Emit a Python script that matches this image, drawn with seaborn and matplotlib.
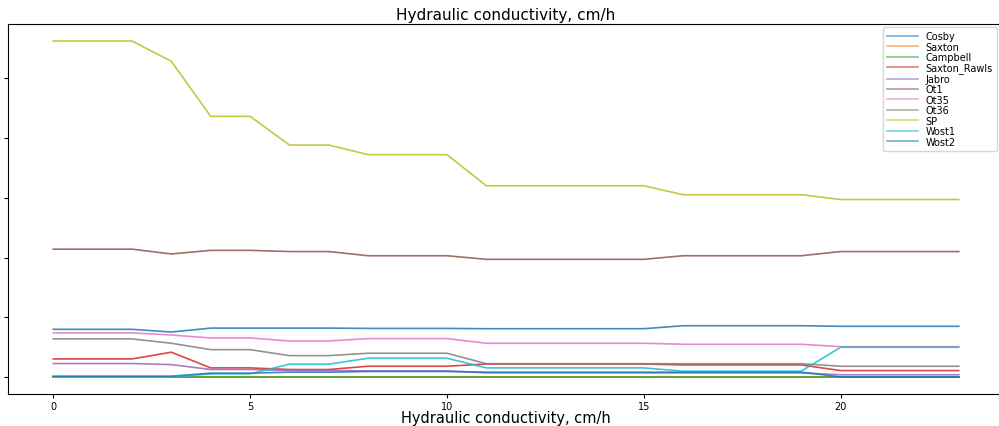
import numpy as np
import pandas as pd
import matplotlib
matplotlib.use('Agg')
import matplotlib.pyplot as plt
import seaborn as sns

# x positions (layer index)
steps = list(range(24))

# values (y units = one tick step)
cosby = [0.80, 0.80, 0.80, 0.755] + [0.82] * 4 + [0.815] * 3 + [0.81] * 5 + [0.86] * 4 + [0.85] * 4
saxton = [0.0] * 24
campbell = [0.005] * 24
saxton_rawls = [0.305, 0.305, 0.305, 0.417, 0.155, 0.155, 0.128, 0.128, 0.183, 0.183, 0.183] + [0.22] * 5 + [0.205] * 4 + [0.11] * 4
jabro = [0.228, 0.228, 0.228, 0.21, 0.128, 0.128, 0.11, 0.11, 0.105, 0.105, 0.105] + [0.072] * 9 + [0.04] * 4
ot1 = [2.14, 2.14, 2.14, 2.06, 2.12, 2.12, 2.10, 2.10, 2.03, 2.03, 2.03] + [1.97] * 5 + [2.03] * 4 + [2.10] * 4
ot35 = [0.74, 0.74, 0.74, 0.705, 0.655, 0.655, 0.605, 0.605, 0.645, 0.645, 0.645] + [0.567] * 5 + [0.55] * 4 + [0.51] * 4
ot36 = [0.64, 0.64, 0.64, 0.567, 0.46, 0.46, 0.36, 0.36, 0.40, 0.40, 0.40] + [0.225] * 9 + [0.183] * 4
sp = [5.62, 5.62, 5.62, 5.28, 4.36, 4.36, 3.88, 3.88, 3.72, 3.72, 3.72] + [3.20] * 5 + [3.05] * 4 + [2.97] * 4
wost1 = [0.0, 0.0, 0.0, 0.0, 0.055, 0.055, 0.217, 0.217, 0.317, 0.317, 0.317] + [0.155] * 5 + [0.10] * 4 + [0.50] * 4
wost2 = [0.017, 0.017, 0.017, 0.017, 0.067, 0.067, 0.083, 0.083, 0.095, 0.095, 0.095] + [0.083] * 9 + [0.005] * 4

names = ['Cosby', 'Saxton', 'Campbell', 'Saxton_Rawls', 'Jabro', 'Ot1',
         'Ot35', 'Ot36', 'SP', 'Wost1', 'Wost2']
series = [cosby, saxton, campbell, saxton_rawls, jabro, ot1,
          ot35, ot36, sp, wost1, wost2]

df = pd.concat(
    [pd.DataFrame({'step': steps, 'k': vals, 'model': name}) for name, vals in zip(names, series)],
    ignore_index=True,
)

# matplotlib default cycle, wraps back to blue for the 11th line
pal = sns.color_palette('tab10', 10)
pal = pal + [pal[0]]

fig = plt.figure(figsize=(9.99, 4.27), dpi=100)
ax = fig.add_axes([0.008, 0.075, 0.997, 0.866])
sns.lineplot(data=df, x='step', y='k', hue='model', hue_order=names,
             palette=pal, linewidth=1.2, alpha=0.85, ax=ax)

ax.set_yticklabels([])
ax.tick_params(axis='x', labelsize=7, length=3, pad=2)
ax.tick_params(axis='y', length=3)
ax.set_title('Hydraulic conductivity, cm/h', fontsize=11, pad=4)
ax.set_xlabel('Hydraulic conductivity, cm/h', fontsize=10.5, labelpad=-1)
ax.set_ylabel('')
leg = ax.legend(loc='upper right', fontsize=7, labelspacing=0.05,
                handlelength=3.2, borderaxespad=0,
                bbox_to_anchor=(0.998, 0.934), bbox_transform=fig.transFigure)
for line in leg.get_lines():
    line.set_alpha(0.6)

plt.savefig('out.png', dpi=100)
